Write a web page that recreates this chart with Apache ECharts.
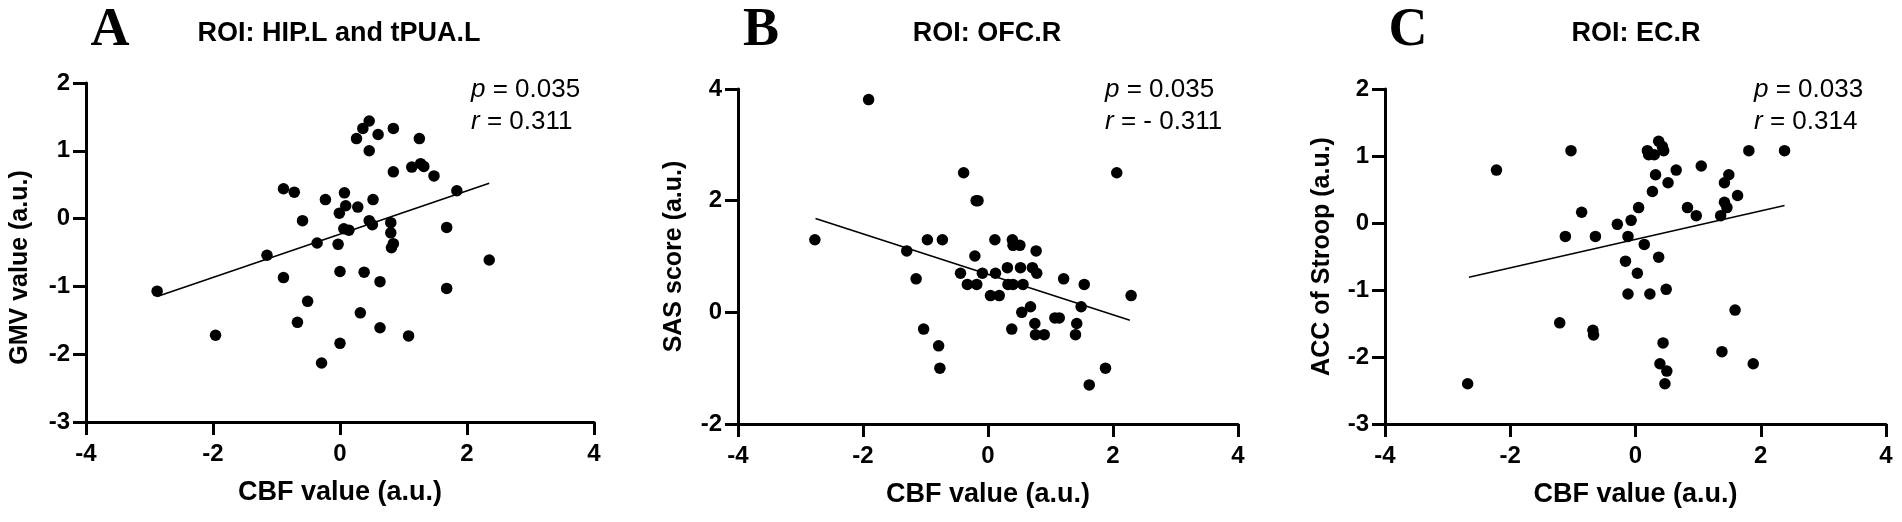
<!DOCTYPE html>
<html>
<head>
<meta charset="utf-8">
<script src="https://cdn.jsdelivr.net/npm/echarts@6/dist/echarts.min.js"></script>
<style>
html,body{margin:0;padding:0;background:#ffffff;}
#chart{width:1902px;height:522px;}
</style>
</head>
<body>
<div id="chart"></div>
<script>
// ---------- data ----------
const xTicks = [-4, 4, 2];           // min, max, interval of CBF axis
const yRangeA = [-3, 2, 1];
const yRangeB = [-2, 4, 2];
const yRangeC = [-3, 2, 1];

const cbfA = [-2.88,-1.96,-1.15,-0.89,-0.72,-0.89,-0.59,-0.51,-0.67,-0.36,-0.23,-0.29,-0.03,-0.01,0.07,0.09,0.06,0.14,0.00,0.00,0.28,0.26,0.36,0.46,0.46,0.52,0.46,0.51,0.38,0.32,0.60,0.63,0.63,0.84,0.84,0.80,0.80,0.81,0.84,1.08,1.13,1.25,1.27,1.32,1.48,1.68,1.68,1.84,2.35];
const gmvA = [-1.07,-1.72,-0.54,0.44,0.39,-0.87,-0.03,-1.22,-1.53,-0.36,0.28,-2.13,-0.38,0.08,0.38,0.19,-0.15,-0.17,-0.78,-1.84,0.17,1.18,1.33,1.44,1.00,0.28,-0.03,-0.09,-0.79,-1.39,1.24,-0.93,-1.61,1.33,0.69,-0.06,-0.21,-0.43,-0.37,-1.73,0.76,1.18,0.81,0.77,0.63,-0.13,-1.03,0.41,-0.61];
const fitA = [[-2.88,-1.15],[2.35,0.52]];

const cbfB = [-2.77,-1.91,-1.30,-1.15,-0.97,-0.73,-1.03,-0.79,-0.77,-0.39,-0.44,-0.33,-0.21,-0.19,-0.16,-0.18,-0.09,0.04,0.11,0.12,0.18,0.31,0.32,0.39,0.40,0.51,0.40,0.38,0.52,0.56,0.54,0.68,0.71,0.77,0.78,0.75,0.76,0.90,1.07,1.14,1.21,1.42,1.40,1.49,1.54,1.62,1.88,2.06,2.29];
const sasB = [1.30,3.81,1.10,0.60,1.30,1.30,-0.30,-0.60,-1.00,2.50,0.70,0.50,1.01,2.00,2.00,0.50,0.70,0.30,1.30,0.70,0.30,0.80,0.50,1.30,1.20,1.20,0.50,-0.30,0.80,0.50,0.00,0.10,0.80,1.10,0.70,-0.20,-0.40,-0.40,-0.10,-0.10,0.60,-0.20,-0.40,0.10,0.50,-1.30,-1.00,2.50,0.30];
const fitB = [[-2.76,1.68],[2.27,-0.14]];

const cbfC = [-2.68,-2.22,-1.21,-1.12,-1.03,-0.86,-0.68,-0.67,-0.64,-0.29,-0.16,-0.12,-0.12,-0.07,0.03,0.05,0.14,0.19,0.21,0.23,0.27,0.30,0.32,0.37,0.37,0.39,0.43,0.45,0.44,0.49,0.50,0.47,0.52,0.65,0.83,0.97,1.05,1.36,1.42,1.42,1.46,1.49,1.38,1.59,1.63,1.81,1.88,2.38];
const accC = [-2.40,0.79,-1.49,-0.20,1.08,0.16,-1.60,-1.67,-0.20,-0.02,-0.57,-0.20,-1.06,0.04,-0.75,0.23,-0.32,1.08,1.02,-1.06,0.47,1.02,0.72,1.22,-0.51,-2.10,1.14,1.08,-1.79,-0.99,-2.21,-2.40,0.60,0.79,0.23,0.11,0.85,0.11,0.31,0.60,0.23,0.72,-1.92,-1.30,0.41,1.08,-2.10,1.08];
const fitC = [[-2.66,-0.81],[2.38,0.26]];

const panelLetters = ['A','B','C'];
const panelTitles = ['ROI: HIP.L and tPUA.L','ROI: OFC.R','ROI: EC.R'];
const yNames = ['GMV value (a.u.)','SAS score (a.u.)','ACC of Stroop (a.u.)'];
const xName = 'CBF value (a.u.)';
const pValues = ['0.035','0.035','0.033'];
const rValues = ['0.311','- 0.311','0.314'];

// ---------- layout ----------
const SANS = "'Liberation Sans', Arial, Helvetica, sans-serif";
const SERIF = "'Liberation Serif', 'Times New Roman', serif";
const grids = [
  {left: 86,   top: 83, width: 508, height: 339},
  {left: 738,  top: 89, width: 500, height: 335},
  {left: 1385, top: 89, width: 501, height: 335}
];
const yNameGaps = [53, 51, 50];
const yNamePads = [[0, 30, 0, 0], [0, 0, 0, 0], [0, 0, 0, 0]];
const letterX = [110, 761, 1408];
const titleX = [339, 987, 1636];
const statX = [471, 1105, 1754];

const pairs = (xs, ys) => xs.map((x, i) => [x, ys[i]]);
const scatterData = [pairs(cbfA, gmvA), pairs(cbfB, sasB), pairs(cbfC, accC)];
const fits = [fitA, fitB, fitC];
const yRanges = [yRangeA, yRangeB, yRangeC];

const axisLineStyle = {color: '#000', width: 3};
const labelStyle = {fontFamily: SANS, fontWeight: 'bold', fontSize: 24, color: '#000'};
const nameStyle = {fontFamily: SANS, fontWeight: 'bold', fontSize: 27, color: '#000'};

const xAxes = grids.map((g, i) => ({
  type: 'value', gridIndex: i,
  min: xTicks[0], max: xTicks[1], interval: xTicks[2],
  name: xName, nameLocation: 'middle', nameGap: 57,
  nameTextStyle: nameStyle,
  axisLine: {onZero: false, lineStyle: axisLineStyle},
  axisTick: {length: 13, lineStyle: axisLineStyle},
  axisLabel: Object.assign({margin: 20}, labelStyle),
  splitLine: {show: false}
}));
const yAxes = grids.map((g, i) => ({
  type: 'value', gridIndex: i,
  min: yRanges[i][0], max: yRanges[i][1], interval: yRanges[i][2],
  name: yNames[i], nameLocation: 'middle', nameGap: yNameGaps[i],
  nameTextStyle: Object.assign({}, nameStyle, {fontSize: 25, padding: yNamePads[i]}),
  axisLine: {onZero: false, lineStyle: axisLineStyle},
  axisTick: {length: 13, lineStyle: axisLineStyle},
  axisLabel: Object.assign({margin: 16}, labelStyle),
  splitLine: {show: false}
}));

const series = [];
grids.forEach((g, i) => {
  series.push({
    type: 'line', xAxisIndex: i, yAxisIndex: i,
    data: fits[i], symbol: 'none', silent: true,
    lineStyle: {color: '#000', width: 1.6}, z: 2
  });
  series.push({
    type: 'scatter', xAxisIndex: i, yAxisIndex: i,
    data: scatterData[i], symbol: 'circle', symbolSize: 11.5,
    itemStyle: {color: '#000', opacity: 1}, z: 3
  });
});

const graphics = [];
grids.forEach((g, i) => {
  graphics.push({
    type: 'text', x: letterX[i], y: 31,
    style: {text: panelLetters[i], fill: '#000', font: 'bold 54px ' + SERIF, align: 'center', verticalAlign: 'middle'}
  });
  graphics.push({
    type: 'text', x: titleX[i], y: 34,
    style: {text: panelTitles[i], fill: '#000', font: 'bold 27px ' + SANS, align: 'center', verticalAlign: 'middle'}
  });
  graphics.push({
    type: 'text', x: statX[i], y: 90,
    style: {text: '{i|p} = ' + pValues[i], fill: '#000', font: '26px ' + SANS, align: 'left', verticalAlign: 'middle',
            rich: {i: {fontStyle: 'italic', fontSize: 26, fontFamily: SANS}}}
  });
  graphics.push({
    type: 'text', x: statX[i], y: 122,
    style: {text: '{i|r} = ' + rValues[i], fill: '#000', font: '26px ' + SANS, align: 'left', verticalAlign: 'middle',
            rich: {i: {fontStyle: 'italic', fontSize: 26, fontFamily: SANS}}}
  });
});

const chart = echarts.init(document.getElementById('chart'), null, {renderer: 'canvas'});
chart.setOption({
  backgroundColor: '#ffffff',
  animation: false,
  grid: grids,
  xAxis: xAxes,
  yAxis: yAxes,
  series: series,
  graphic: graphics
});
</script>
</body>
</html>
